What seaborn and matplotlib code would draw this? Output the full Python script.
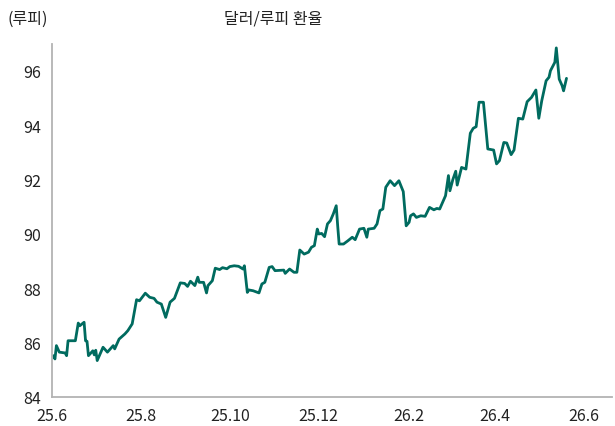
import pandas as pd
import matplotlib
matplotlib.use("Agg")
import matplotlib.pyplot as plt
import matplotlib.dates as mdates
import seaborn as sns

# 달러/루피 환율
dates = [
    "2025-06-02", "2025-06-03", "2025-06-04", "2025-06-06", "2025-06-10", "2025-06-11",
    "2025-06-12", "2025-06-17", "2025-06-19", "2025-06-20", "2025-06-23", "2025-06-24",
    "2025-06-25", "2025-06-26", "2025-06-29", "2025-06-30", "2025-07-01", "2025-07-02",
    "2025-07-06", "2025-07-09", "2025-07-13", "2025-07-14", "2025-07-17", "2025-07-21",
    "2025-07-23", "2025-07-26", "2025-07-29", "2025-07-31", "2025-08-03", "2025-08-04",
    "2025-08-07", "2025-08-10", "2025-08-12", "2025-08-15", "2025-08-18", "2025-08-21",
    "2025-08-24", "2025-08-28", "2025-08-31", "2025-09-02", "2025-09-04", "2025-09-07",
    "2025-09-09", "2025-09-10", "2025-09-13", "2025-09-15", "2025-09-16", "2025-09-19",
    "2025-09-21", "2025-09-24", "2025-09-26", "2025-09-29", "2025-10-01", "2025-10-04",
    "2025-10-07", "2025-10-10", "2025-10-11", "2025-10-13", "2025-10-14", "2025-10-17",
    "2025-10-21", "2025-10-23", "2025-10-25", "2025-10-28", "2025-10-30", "2025-11-01",
    "2025-11-04", "2025-11-07", "2025-11-08", "2025-11-11", "2025-11-14", "2025-11-16",
    "2025-11-18", "2025-11-21", "2025-11-24", "2025-11-26", "2025-11-28", "2025-11-30",
    "2025-12-01", "2025-12-03", "2025-12-05", "2025-12-07", "2025-12-09", "2025-12-11",
    "2025-12-13", "2025-12-14", "2025-12-15", "2025-12-18", "2025-12-21", "2025-12-24",
    "2025-12-26", "2025-12-29", "2026-01-01", "2026-01-03", "2026-01-04", "2026-01-08",
    "2026-01-10", "2026-01-12", "2026-01-14", "2026-01-16", "2026-01-19", "2026-01-22",
    "2026-01-25", "2026-01-28", "2026-01-30", "2026-02-01", "2026-02-02", "2026-02-04",
    "2026-02-06", "2026-02-09", "2026-02-12", "2026-02-15", "2026-02-18", "2026-02-20",
    "2026-02-22", "2026-02-26", "2026-02-28", "2026-03-01", "2026-03-03", "2026-03-05",
    "2026-03-06", "2026-03-09", "2026-03-12", "2026-03-15", "2026-03-17", "2026-03-19",
    "2026-03-21", "2026-03-24", "2026-03-27", "2026-03-31", "2026-04-02", "2026-04-04",
    "2026-04-07", "2026-04-09", "2026-04-12", "2026-04-14", "2026-04-17", "2026-04-20",
    "2026-04-23", "2026-04-26", "2026-04-29", "2026-05-01", "2026-05-03", "2026-05-06",
    "2026-05-08", "2026-05-09", "2026-05-12", "2026-05-13", "2026-05-15", "2026-05-17",
    "2026-05-18", "2026-05-20",
]
rupee = [
    85.52, 85.40, 85.89, 85.65, 85.62, 85.52,
    86.07, 86.07, 86.72, 86.62, 86.75, 86.07,
    86.05, 85.52, 85.70, 85.55, 85.72, 85.34,
    85.83, 85.65, 85.89, 85.77, 86.13, 86.32,
    86.44, 86.69, 87.58, 87.54, 87.75, 87.82,
    87.67, 87.63, 87.49, 87.42, 86.93, 87.49,
    87.63, 88.20, 88.18, 88.07, 88.26, 88.10,
    88.41, 88.22, 88.22, 87.83, 88.10, 88.28,
    88.74, 88.69, 88.76, 88.72, 88.80, 88.83,
    88.81, 88.71, 88.83, 87.85, 87.94, 87.91,
    87.83, 88.16, 88.22, 88.77, 88.80, 88.65,
    88.66, 88.67, 88.55, 88.71, 88.59, 88.59,
    89.41, 89.26, 89.33, 89.51, 89.57, 90.18,
    90.00, 90.02, 89.90, 90.37, 90.49, 90.74,
    91.04, 90.30, 89.63, 89.63, 89.75, 89.88,
    89.79, 90.18, 90.21, 89.88, 90.18, 90.21,
    90.37, 90.86, 90.92, 91.72, 91.96, 91.78,
    91.96, 91.56, 90.30, 90.43, 90.67, 90.74,
    90.61, 90.67, 90.65, 90.98, 90.89, 90.94,
    90.92, 91.41, 92.15, 91.59, 92.00, 92.31,
    91.80, 92.45, 92.39, 93.71, 93.89, 93.95,
    94.85, 94.85, 93.13, 93.09, 92.58, 92.70,
    93.37, 93.35, 92.92, 93.09, 94.26, 94.23,
    94.87, 95.03, 95.30, 94.26, 94.90, 95.64,
    95.77, 96.01, 96.32, 96.85, 95.70, 95.46,
    95.27, 95.73,
]
tick_dates = ["2025-06-01", "2025-08-01", "2025-10-01", "2025-12-01",
              "2026-02-01", "2026-04-01", "2026-06-01"]
tick_labels = ["25.6", "25.8", "25.10", "25.12", "26.2", "26.4", "26.6"]

df = pd.DataFrame({"date": pd.to_datetime(dates), "value": rupee})

sns.set_style("white")
plt.rcParams["font.family"] = ["Noto Sans CJK KR", "DejaVu Sans"]

fig = plt.figure(figsize=(6.15, 4.27), dpi=100)
ax = fig.add_axes([0.0846, 0.068, 0.91, 0.827])

sns.lineplot(data=df, x="date", y="value", ax=ax, color="#006B5F", linewidth=2.0)

ax.set_xlim(pd.Timestamp("2025-06-01"), pd.Timestamp("2026-06-20"))
ax.set_ylim(84, 97)
ax.set_yticks(range(84, 97, 2))
ax.set_xticks(pd.to_datetime(tick_dates))
ax.set_xticklabels(tick_labels)
ax.set_xlabel("")
ax.set_ylabel("")

for side in ["top", "right"]:
    ax.spines[side].set_visible(False)
for side in ["left", "bottom"]:
    ax.spines[side].set_color("#b3b3b3")
    ax.spines[side].set_linewidth(1.3)

ax.tick_params(axis="both", length=5, width=1, color="#b3b3b3",
               labelsize=11.5, labelcolor="#222222", direction="out")
ax.tick_params(axis="x", pad=2)
ax.tick_params(axis="y", pad=3)

fig.text(0.445, 0.955, "달러/루피 환율", ha="center", va="center",
         fontsize=11.5, color="#222222")
fig.text(0.012, 0.955, "(루피)", ha="left", va="center",
         fontsize=11.5, color="#222222")

fig.savefig("out.png", dpi=100)
